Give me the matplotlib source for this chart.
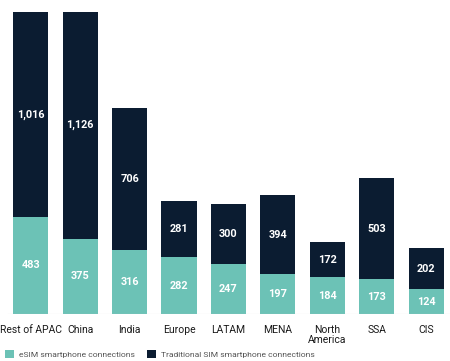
import matplotlib
matplotlib.use("Agg")
import matplotlib.pyplot as plt
from matplotlib.patches import Patch

categories = ["Rest of APAC", "China", "India", "Europe", "LATAM", "MENA", "North\nAmerica", "SSA", "CIS"]
esim = [483, 375, 316, 282, 247, 197, 184, 173, 124]
traditional = [1016, 1126, 706, 281, 300, 394, 172, 503, 202]
series_names = ["eSIM smartphone connections", "Traditional SIM smartphone connections"]

teal = "#6cc2b6"
navy = "#0b1c31"

plt.rcParams['font.family'] = ['Roboto', 'DejaVu Sans']

fig = plt.figure(figsize=(4.5, 3.61), dpi=100)
ax = fig.add_axes([0.0, 0.130, 1.0, 0.870])

x = list(range(len(categories)))
w = 0.71
ax.bar(x, esim, width=w, color=teal)
ax.bar(x, traditional, width=w, bottom=esim, color=navy)

for i in x:
    ax.text(i, esim[i] / 2, f"{esim[i]:,}", ha="center", va="center",
            color="white", fontsize=7.8, fontweight="bold")
    ax.text(i, esim[i] + traditional[i] / 2, f"{traditional[i]:,}", ha="center", va="center",
            color="white", fontsize=7.8, fontweight="bold")

ax.set_xlim(-0.62, 8.48)
ax.set_ylim(0, 1560)
for s in ax.spines.values():
    s.set_visible(False)
ax.axhline(0, xmin=8/450, xmax=1, color="#d0d0d0", lw=0.8)
ax.set_yticks([])
ax.set_xticks(x)
ax.set_xticklabels(categories, fontsize=7.5, color="#1a1a1a", linespacing=1.0)
ax.tick_params(axis="x", length=0, pad=8)

handles = [Patch(facecolor=teal, edgecolor="none"), Patch(facecolor=navy, edgecolor="none")]
fig.legend(handles, series_names, loc="lower left", bbox_to_anchor=(0.0, -0.005), ncol=2,
           frameon=False, fontsize=6.1, handlelength=1.0, handleheight=1.0,
           handletextpad=0.6, columnspacing=1.5, labelcolor="#555555", borderaxespad=0.2)

fig.savefig("out.png", dpi=100)
